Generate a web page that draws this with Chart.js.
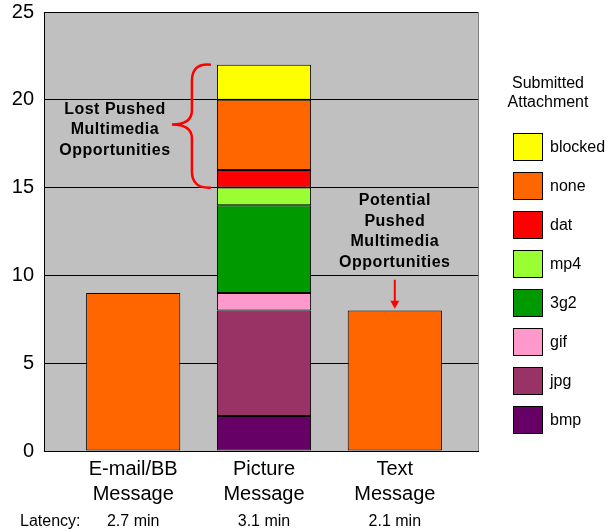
<!DOCTYPE html>
<html>
<head>
<meta charset="utf-8">
<script src="https://cdn.jsdelivr.net/npm/chart.js@4/dist/chart.umd.min.js"></script>
<style>
  html, body { margin: 0; padding: 0; background: #fff; }
  #wrap { width: 611px; height: 532px; position: relative; }
</style>
</head>
<body>
<div id="wrap"><canvas id="AttachChart"></canvas></div>
<script>
// categories and values
const categories = [["E-mail/BB", "Message"], ["Picture", "Message"], ["Text", "Message"]];
const latency = ["2.7 min", "3.1 min", "2.1 min"];
const yTicks = [0, 5, 10, 15, 20, 25];

const bmp     = [null, 2, null];
const jpg     = [null, 6, null];
const gif     = [null, 1, null];
const g3g2    = [null, 5, null];
const mp4     = [null, 1, null];
const dat     = [null, 1, null];
const none    = [9, 4, 8];
const blocked = [null, 2, null];

const FONT = "Arial, 'Liberation Sans', sans-serif";

const series = [
  { label: "bmp", data: bmp, color: "#660066" },
  { label: "jpg", data: jpg, color: "#993366" },
  { label: "gif", data: gif, color: "#ff99cc" },
  { label: "3g2", data: g3g2, color: "#009900" },
  { label: "mp4", data: mp4, color: "#99ff33" },
  { label: "dat", data: dat, color: "#ff0000" },
  { label: "none", data: none, color: "#ff6600" },
  { label: "blocked", data: blocked, color: "#ffff00" },
];

// grey plot background, right edge line
const plotBg = {
  id: "plotBg",
  beforeDraw(chart) {
    const { ctx, chartArea: a } = chart;
    ctx.save();
    ctx.fillStyle = "#c0c0c0";
    ctx.fillRect(a.left, a.top, a.right - a.left, a.bottom - a.top);
    ctx.strokeStyle = "#808080";
    ctx.lineWidth = 1;
    ctx.beginPath();
    ctx.moveTo(a.right + 0.5, a.top);
    ctx.lineTo(a.right + 0.5, a.bottom);
    ctx.stroke();
    ctx.restore();
  }
};

// legend, latency row, brace and arrow notes
const extras = {
  id: "extras",
  afterDraw(chart) {
    const { ctx } = chart;
    const x = chart.scales.x, y = chart.scales.y;
    ctx.save();

    // legend (top item = last dataset)
    ctx.fillStyle = "#000";
    ctx.font = "16px " + FONT;
    ctx.textAlign = "center";
    ctx.textBaseline = "middle";
    ctx.fillText("Submitted", 548, 84);
    ctx.fillText("Attachment", 548, 103);
    const ds = chart.data.datasets.slice().reverse();
    ds.forEach((d, i) => {
      const cy = 147 + i * 39;
      ctx.fillStyle = d.backgroundColor;
      ctx.fillRect(513, cy - 14, 30, 28);
      ctx.strokeStyle = "#000";
      ctx.lineWidth = 1;
      ctx.strokeRect(513.5, cy - 13.5, 29, 27);
      ctx.fillStyle = "#000";
      ctx.textAlign = "left";
      ctx.fillText(d.label, 550, cy + 1);
    });

    // latency row
    ctx.font = "16px " + FONT;
    ctx.textAlign = "left";
    ctx.fillStyle = "#000";
    ctx.fillText("Latency:", 20, 522);
    ctx.textAlign = "center";
    latency.forEach((t, i) => ctx.fillText(t, x.getPixelForValue(i), 522));

    // brace beside the picture message bar
    const bar = chart.getDatasetMeta(7).data[1];
    const bl = bar.x - bar.width / 2;
    const top = y.getPixelForValue(22), bot = y.getPixelForValue(15);
    const mid = y.getPixelForValue(18.6);
    const tip = bl - 6, spine = bl - 25, point = bl - 45;
    ctx.strokeStyle = "#ff0000";
    ctx.lineWidth = 2.5;
    ctx.beginPath();
    ctx.moveTo(tip, top);
    ctx.quadraticCurveTo(spine, top - 2, spine, top + 16);
    ctx.lineTo(spine, mid - 14);
    ctx.quadraticCurveTo(spine, mid, point, mid);
    ctx.quadraticCurveTo(spine, mid, spine, mid + 14);
    ctx.lineTo(spine, bot - 16);
    ctx.quadraticCurveTo(spine, bot + 1, tip, bot);
    ctx.stroke();

    ctx.fillStyle = "#000";
    ctx.font = "bold 16px " + FONT;
    ctx.letterSpacing = "0.5px";
    ctx.textAlign = "center";
    const lc = y.getPixelForValue(18.3);
    ["Lost Pushed", "Multimedia", "Opportunities"].forEach((t, i) =>
      ctx.fillText(t, point - 57, lc + (i - 1) * 20.5));

    // note + arrow above the text message bar
    const tx = x.getPixelForValue(2);
    const pc = y.getPixelForValue(12.5);
    ["Potential", "Pushed", "Multimedia", "Opportunities"].forEach((t, i) =>
      ctx.fillText(t, tx, pc + (i - 1.5) * 20.5));
    const a0 = y.getPixelForValue(9.75), a1 = y.getPixelForValue(8.1);
    ctx.strokeStyle = "#ff0000";
    ctx.fillStyle = "#ff0000";
    ctx.lineWidth = 2;
    ctx.beginPath();
    ctx.moveTo(tx, a0);
    ctx.lineTo(tx, a1 - 7);
    ctx.stroke();
    ctx.beginPath();
    ctx.moveTo(tx - 4.5, a1 - 8);
    ctx.lineTo(tx + 4.5, a1 - 8);
    ctx.lineTo(tx, a1);
    ctx.closePath();
    ctx.fill();

    ctx.restore();
  }
};

const ctx = document.getElementById("AttachChart").getContext("2d");
new Chart(ctx, {
  type: "bar",
  data: {
    datasets: series.map(s => ({
      label: s.label,
      data: s.data.map((v, i) => ({ x: i, y: v })),
      backgroundColor: s.color,
      borderColor: "#000",
      borderWidth: 1,
      borderSkipped: false,
      categoryPercentage: 1,
      barPercentage: 0.72,
    })),
  },
  options: {
    responsive: true,
    maintainAspectRatio: false,
    animation: false,
    layout: { padding: { top: 12, right: 133, left: 0, bottom: 0 } },
    plugins: {
      legend: { display: false },
      tooltip: { enabled: false },
    },
    scales: {
      x: {
        type: "linear",
        stacked: true,
        offset: false,
        min: -0.682,
        max: 2.636,
        afterBuildTicks(scale) { scale.ticks = categories.map((c, i) => ({ value: i })); },
        grid: { display: false, drawTicks: false },
        border: { display: true, color: "#000", width: 1 },
        ticks: {
          color: "#000",
          padding: 6,
          font: { family: FONT, size: 20, lineHeight: 1.25 },
          maxRotation: 0,
          autoSkip: false,
          callback: v => categories[v],
        },
        afterFit(scale) {
          scale.height = 81;
          scale.paddingLeft = 0;
          scale.paddingRight = 0;
        },
      },
      y: {
        stacked: true,
        min: 0,
        max: 25,
        afterBuildTicks(scale) { scale.ticks = yTicks.map(v => ({ value: v })); },
        grid: { color: "#000", lineWidth: 1, drawTicks: false },
        border: { display: true, color: "#000", width: 1 },
        ticks: {
          color: "#000",
          padding: 10,
          font: { family: FONT, size: 20 },
        },
        afterFit(scale) {
          scale.width = 44;
          scale.paddingTop = 0;
          scale.paddingBottom = 0;
        },
      },
    },
  },
  plugins: [plotBg, extras],
});
</script>
</body>
</html>
